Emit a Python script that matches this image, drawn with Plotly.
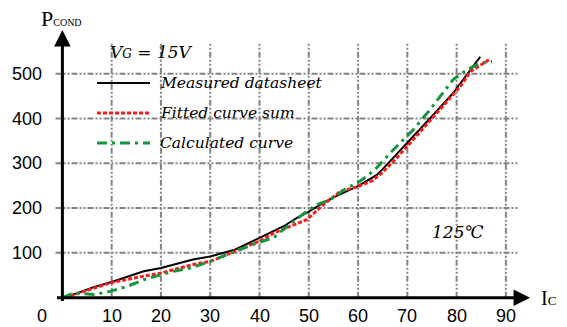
import plotly.graph_objects as go

# ---------------- data ----------------
measured_x = [0, 3, 6.5, 10, 16.5, 20, 26.5, 30, 35, 40, 45, 47.6, 50, 53, 55, 60, 63.8, 65, 70, 75, 79.3, 82.1, 84.8]
measured_p = [0, 10, 24, 35, 59, 66, 85, 92, 107, 133, 160, 178, 192, 212, 224, 249, 274, 287, 345, 405, 457, 498, 538]

fitted_x = [0.5, 6.4, 9.7, 16.5, 20, 26.6, 30, 36, 40, 43, 49.6, 53, 56.4, 60, 63, 65, 67.5, 71.2, 76, 80.7, 82.8, 84.8, 86.8]
fitted_p = [0, 22, 33, 48, 55, 74, 81, 108, 126, 145, 174, 208, 237, 248, 262, 280, 308, 353, 413, 471, 505, 520, 533]

calc_x = [0, 2.3, 6.4, 9.7, 13.1, 16.5, 20, 22.6, 26, 30, 35, 39.5, 42.9, 45.6, 49.6, 51.7, 54.4, 57.7, 59.8, 61.8, 63.8, 66.5, 71.2, 74.6, 79.3, 82.1, 84.8, 87.2]
calc_p = [0, 10, 7, 14, 25, 40, 51, 59, 66, 81, 103, 122, 134, 159, 193, 208, 219, 245, 256, 271, 290, 323, 375, 420, 487, 509, 524, 527]

x_ticks = [10, 20, 30, 40, 50, 60, 70, 80, 90]
y_ticks = [100, 200, 300, 400, 500]
legend_names = ["Measured datasheet", "Fitted curve sum", "Calculated curve"]

# ---------------- layout geometry ----------------
L, R, T, B = 55, 34, 29, 24
W, H = 567 - L - R, 327 - T - B
XR = [-1.5, 95.5]
YR = [-12, 600]

def px(xp):
    return (xp - L) / W

def py(yp):
    return (T + H - yp) / H

SERIF = "DejaVu Serif"
SANS = "Liberation Sans"
GRID = "#848484"
GRID_DASH = "6px,2px,2px,2px,2px,2px"

fig = go.Figure()

styles = [
    dict(color="black", width=2, dash="solid"),
    dict(color="#ff1a1a", width=3, dash="4px,2px"),
    dict(color="#14963c", width=3, dash="10px,5px,3px,5px"),
]
series = [(measured_x, measured_p), (fitted_x, fitted_p), (calc_x, calc_p)]
for (sx, sy), st, name in zip(series, styles, legend_names):
    fig.add_trace(go.Scatter(x=sx, y=sy, mode="lines", name=name, line=st,
                             showlegend=False, hoverinfo="skip"))

shapes = []
for xt in x_ticks:
    shapes.append(dict(type="line", xref="x", yref="y", x0=xt, x1=xt, y0=0, y1=569,
                       line=dict(color=GRID, width=2, dash=GRID_DASH), layer="below"))
for yt in y_ticks:
    shapes.append(dict(type="line", xref="x", yref="y", x0=-1.4, x1=92.6, y0=yt, y1=yt,
                       line=dict(color=GRID, width=2, dash=GRID_DASH), layer="below"))
shapes.append(dict(type="rect", xref="paper", yref="paper", x0=px(95), x1=px(335),
                   y0=py(160), y1=py(68), fillcolor="white", line=dict(width=0), layer="below"))
for i, st in enumerate(styles):
    yy = py(83 + 30 * i)
    shapes.append(dict(type="line", xref="paper", yref="paper", x0=px(97), x1=px(150),
                       y0=yy, y1=yy, line=st))

annotations = []
annotations.append(dict(x=0, y=598, ax=0, ay=-11, xref="x", yref="y", axref="x", ayref="y",
                        text="", showarrow=True, arrowhead=2, arrowsize=1.1, arrowwidth=3,
                        arrowcolor="black"))
annotations.append(dict(x=94.9, y=0, ax=-1.4, ay=0, xref="x", yref="y", axref="x", ayref="y",
                        text="", showarrow=True, arrowhead=2, arrowsize=1.1, arrowwidth=3,
                        arrowcolor="black"))

def txt(xp, yp, text, family, size, xanchor="center"):
    annotations.append(dict(x=px(xp), y=py(yp), xref="paper", yref="paper", text=text,
                            showarrow=False, xanchor=xanchor, yanchor="middle",
                            font=dict(family=family, size=size, color="black")))

for xt in x_ticks:
    annotations.append(dict(x=xt, y=0, xref="x", yref="y", text=str(xt), showarrow=False,
                            xanchor="center", yanchor="top", yshift=-6,
                            font=dict(family=SANS, size=18, color="black")))
for yt in y_ticks:
    annotations.append(dict(x=-1.5, y=yt, xref="x", yref="y", text=str(yt), showarrow=False,
                            xanchor="right", yanchor="middle", xshift=-11,
                            font=dict(family=SANS, size=18, color="black")))
txt(42, 316, "0", SANS, 18)
txt(39, 18, "P<span style='font-size:10px'>COND</span>", "Liberation Serif", 22, "left")
txt(539, 298, "I<span style='font-size:13px'>C</span>", "Liberation Serif", 20, "left")
txt(108, 52, "<i>V<span style='font-size:12px'>G</span> = 15V</i>", SERIF, 17, "left")
for i, name in enumerate(legend_names):
    txt(158, 83 + 30 * i, "<i>" + name + "</i>", SERIF, 15.5, "left")
txt(457, 232, "<i>125℃</i>", SERIF, 17)

fig.update_layout(
    width=567, height=327,
    margin=dict(l=L, r=R, t=T, b=B),
    paper_bgcolor="white", plot_bgcolor="white",
    xaxis=dict(range=XR, visible=False, fixedrange=True),
    yaxis=dict(range=YR, visible=False, fixedrange=True),
    shapes=shapes, annotations=annotations,
    showlegend=False,
)

fig.write_html("out.html", config={"displayModeBar": False},
               post_script="document.body.style.margin='0';")
